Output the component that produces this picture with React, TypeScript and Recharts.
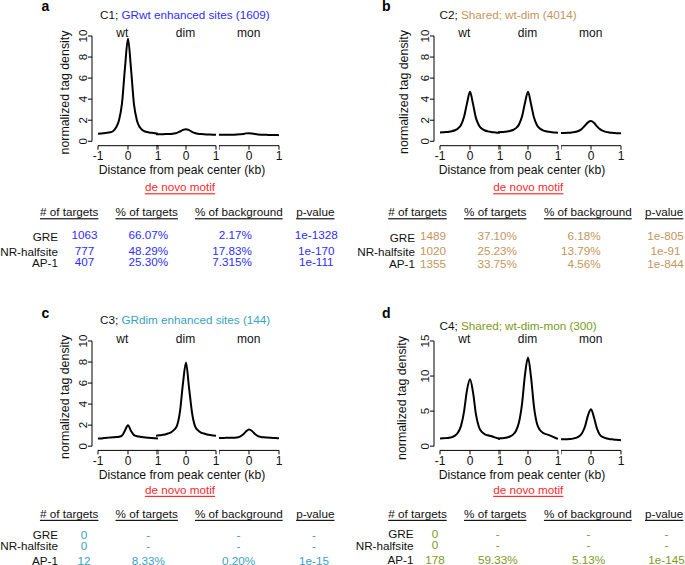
import React from 'react';
import { LineChart, Line, XAxis, YAxis, ReferenceLine } from 'recharts';

const FONT = '"Liberation Sans", Arial, Helvetica, sans-serif';

// ---------- data ----------
const positions = [-1, -0.9, -0.8, -0.7, -0.6, -0.5, -0.4, -0.3, -0.2, -0.1, 0, 0.1, 0.2, 0.3, 0.4, 0.5, 0.6, 0.7, 0.8, 0.9, 1];
const xTicks = [-1, 0, 1];
const yTicks10 = [0, 2, 4, 6, 8, 10];
const yTicks15 = [0, 5, 10, 15];
const conditions = ['wt', 'dim', 'mon'];
const motifs = ['GRE', 'NR-halfsite', 'AP-1'];
const headers = ['# of targets', '% of targets', '% of background', 'p-value'];

const aWt = [0.72, 0.74, 0.77, 0.8, 0.85, 0.95, 1.3, 2.0, 3.6, 7.0, 9.75, 6.9, 3.5, 1.95, 1.3, 1.02, 0.9, 0.84, 0.8, 0.76, 0.72];
const aDim = [0.66, 0.66, 0.67, 0.68, 0.69, 0.7, 0.73, 0.8, 0.93, 1.08, 1.15, 1.06, 0.9, 0.78, 0.71, 0.68, 0.66, 0.65, 0.64, 0.63, 0.62];
const aMon = [0.62, 0.62, 0.62, 0.62, 0.63, 0.63, 0.64, 0.66, 0.7, 0.75, 0.77, 0.74, 0.69, 0.65, 0.63, 0.62, 0.61, 0.6, 0.6, 0.59, 0.58];

const bWt = [0.83, 0.85, 0.87, 0.9, 0.96, 1.05, 1.22, 1.55, 2.3, 3.6, 4.7, 3.55, 2.2, 1.5, 1.18, 1.02, 0.94, 0.89, 0.85, 0.82, 0.8];
const bDim = [0.85, 0.87, 0.89, 0.92, 0.98, 1.07, 1.25, 1.6, 2.35, 3.65, 4.7, 3.55, 2.25, 1.52, 1.2, 1.04, 0.95, 0.9, 0.86, 0.83, 0.81];
const bMon = [0.78, 0.79, 0.8, 0.82, 0.85, 0.9, 1.0, 1.2, 1.5, 1.8, 1.92, 1.75, 1.42, 1.15, 0.98, 0.89, 0.84, 0.8, 0.78, 0.76, 0.75];

const cWt = [0.72, 0.74, 0.77, 0.8, 0.82, 0.84, 0.87, 0.9, 1.0, 1.5, 2.0, 1.45, 1.05, 0.95, 0.9, 0.86, 0.82, 0.8, 0.77, 0.75, 0.73];
const cDim = [1.0, 1.03, 1.07, 1.12, 1.2, 1.32, 1.55, 1.95, 3.3, 6.0, 7.95, 5.6, 3.2, 1.9, 1.5, 1.3, 1.2, 1.12, 1.06, 1.02, 1.0];
const cMon = [0.78, 0.78, 0.79, 0.8, 0.8, 0.81, 0.83, 0.9, 1.1, 1.4, 1.58, 1.45, 1.15, 0.95, 0.88, 0.84, 0.82, 0.8, 0.78, 0.77, 0.76];

const dWt = [1.1, 1.12, 1.15, 1.2, 1.3, 1.5, 1.95, 2.9, 4.9, 8.0, 9.55, 7.7, 4.5, 2.7, 2.0, 1.7, 1.55, 1.45, 1.3, 1.15, 1.0];
const dDim = [1.1, 1.12, 1.16, 1.24, 1.38, 1.65, 2.2, 3.4, 6.0, 10.2, 12.65, 9.9, 5.6, 3.2, 2.3, 1.9, 1.72, 1.58, 1.4, 1.2, 1.05];
const dMon = [0.98, 0.99, 1.0, 1.03, 1.08, 1.18, 1.4, 1.85, 2.8, 4.4, 5.27, 4.1, 2.5, 1.6, 1.28, 1.12, 1.04, 0.98, 0.93, 0.89, 0.85];

const aTargets = ['1063', '777', '407'];
const aPctTargets = ['66.07%', '48.29%', '25.30%'];
const aPctBg = ['2.17%', '17.83%', '7.315%'];
const aPval = ['1e-1328', '1e-170', '1e-111'];

const bTargets = ['1489', '1020', '1355'];
const bPctTargets = ['37.10%', '25.23%', '33.75%'];
const bPctBg = ['6.18%', '13.79%', '4.56%'];
const bPval = ['1e-805', '1e-91', '1e-844'];

const cTargets = ['0', '0', '12'];
const cPctTargets = ['-', '-', '8.33%'];
const cPctBg = ['-', '-', '0.20%'];
const cPval = ['-', '-', '1e-15'];

const dTargets = ['0', '0', '178'];
const dPctTargets = ['-', '-', '59.33%'];
const dPctBg = ['-', '-', '5.13%'];
const dPval = ['-', '-', '1e-145'];

// ---------- styles / layout ----------
const BLUE = '#2e2eff';
const TAN = '#c4955c';
const TEAL = '#3a9fc0';
const OLIVE = '#7b9a20';
const RED = '#ff2a2a';
const TXT = '#111';

const TOP = { plotTop: 36, plotHeight: 109.7, subY: 32.5, xTitleY: 170, deNovoY: 186.7, headerY: 211.7 };
const BOT = { plotTop: 340.6, plotHeight: 109.4, subY: 338.5, xTitleY: 475, deNovoY: 489.3, headerY: 513.3 };
const LEFT = { segs: [92.3, 155.5, 218.7], titleX: 100, xTitleX: 182, letterX: 41.5, deNovoX: 180, headerXs: [69.2, 146.7, 238.8, 315.3] };
const RIGHT = { segs: [434.3, 497.5, 560.7], titleX: 439.5, xTitleX: 522, letterX: 382, deNovoX: 528.3, headerXs: [417.5, 495.2, 587.8, 664.2] };

const panels = [
  {
    letter: 'a', col: LEFT, row: TOP, letterY: 11, titleY: 14, prefix: 'C1; ', title: 'GRwt enhanced sites (1609)', color: BLUE,
    series: [aWt, aDim, aMon], yDomain: [-0.42, 10], yTicks: yTicks10, yTitleX: 65, yTitleY: 92.5,
    labelX: 58, labelYs: [236.7, 251.7, 262.3], valueYs: [234.3, 250.7, 261.7],
    cols: [{ x: 84.5, a: 'middle' }, { x: 148.3, a: 'middle' }, { x: 252, a: 'end' }, { x: 316.3, a: 'middle' }],
    table: [aTargets, aPctTargets, aPctBg, aPval],
  },
  {
    letter: 'b', col: RIGHT, row: TOP, letterY: 11, titleY: 14, prefix: 'C2; ', title: 'Shared; wt-dim (4014)', color: TAN,
    series: [bWt, bDim, bMon], yDomain: [-0.42, 10], yTicks: yTicks10, yTitleX: 404, yTitleY: 92,
    labelX: 415, labelYs: [237.3, 251.7, 263.3], valueYs: [235, 250, 263.3],
    cols: [{ x: 433, a: 'middle' }, { x: 497.2, a: 'middle' }, { x: 600.7, a: 'end' }, { x: 665.5, a: 'middle' }],
    table: [bTargets, bPctTargets, bPctBg, bPval],
  },
  {
    letter: 'c', col: LEFT, row: BOT, letterY: 317.5, titleY: 319.3, prefix: 'C3; ', title: 'GRdim enhanced sites (144)', color: TEAL,
    series: [cWt, cDim, cMon], yDomain: [-0.4, 10], yTicks: yTicks10, yTitleX: 65, yTitleY: 397,
    labelX: 58, labelYs: [534, 545.7, 560.3], valueYs: [534, 545.3, 560.3],
    cols: [{ x: 84, a: 'middle' }, { x: 148.3, a: 'middle' }, { x: 238.5, a: 'middle' }, { x: 314, a: 'middle' }],
    table: [cTargets, cPctTargets, cPctBg, cPval],
  },
  {
    letter: 'd', col: RIGHT, row: BOT, letterY: 317.5, titleY: 325, prefix: 'C4; ', title: 'Shared; wt-dim-mon (300)', color: OLIVE,
    series: [dWt, dDim, dMon], yDomain: [-0.6, 15], yTicks: yTicks15, yTitleX: 402, yTitleY: 398,
    labelX: 413.5, labelYs: [533.3, 545.7, 559.3], valueYs: [533, 544.3, 559.3],
    cols: [{ x: 435, a: 'middle' }, { x: 497.8, a: 'middle' }, { x: 588.5, a: 'middle' }, { x: 666.5, a: 'middle' }],
    table: [dTargets, dPctTargets, dPctBg, dPval],
  },
];

// ---------- chart pieces ----------
const renderXTick = (props: any, first: boolean) => {
  const { x, y, payload } = props;
  if (!first && payload.value === -1) return <g />;
  return (
    <text x={x} y={y} dy={8.3} textAnchor="middle" fontSize={12} fontFamily={FONT} fill={TXT}>
      {String(payload.value)}
    </text>
  );
};

const renderYTick = (props: any) => {
  const { x, y, payload } = props;
  const bx = x + 1.1;
  return (
    <text x={bx} y={y} transform={`rotate(-90 ${bx} ${y})`} textAnchor="middle" fontSize={11.5} fontFamily={FONT} fill={TXT}>
      {String(payload.value)}
    </text>
  );
};

function SubChart({ values, first, plotLeft, plotTop, plotHeight, yDomain, yTicks }: any) {
  const data = positions.map((x, i) => ({ x, v: values[i] }));
  const yAxisW = first ? 40 : 0;
  const xMin = first ? -1.2 : -1;
  const plotW = first ? 66 : 60;
  const mTop = 6;
  const mRight = 8;
  const xAxisH = 30;
  const width = yAxisW + plotW + mRight;
  const height = mTop + plotHeight + xAxisH;
  const yMax = yDomain[1];
  return (
    <div style={{ position: 'absolute', left: plotLeft - yAxisW, top: plotTop - mTop }}>
      <LineChart width={width} height={height} data={data} margin={{ top: mTop, right: mRight, bottom: 0, left: 0 }}>
        <XAxis
          dataKey="x"
          type="number"
          domain={[xMin, 1]}
          ticks={xTicks}
          interval={0}
          allowDataOverflow
          height={xAxisH}
          axisLine={first ? false : { stroke: '#000', strokeWidth: 1 }}
          tickLine={{ stroke: '#000', strokeWidth: 1 }}
          tickSize={4}
          tick={(p: any) => renderXTick(p, first)}
        />
        {first ? (
          <YAxis
            type="number"
            domain={yDomain}
            ticks={yTicks}
            interval={0}
            allowDataOverflow
            width={yAxisW}
            axisLine={false}
            tickLine={{ stroke: '#000', strokeWidth: 1 }}
            tickSize={4}
            tick={renderYTick}
          />
        ) : (
          <YAxis type="number" domain={yDomain} allowDataOverflow hide />
        )}
        {first && (
          <ReferenceLine
            segment={[{ x: -1, y: yDomain[0] }, { x: 1, y: yDomain[0] }]}
            stroke="#000"
            strokeWidth={1}
            ifOverflow="visible"
          />
        )}
        {first && (
          <ReferenceLine
            segment={[{ x: -1.2, y: 0 }, { x: -1.2, y: yMax }]}
            stroke="#000"
            strokeWidth={1}
            ifOverflow="visible"
          />
        )}
        <Line type="monotone" dataKey="v" stroke="#000" strokeWidth={2} dot={false} isAnimationActive={false} />
      </LineChart>
    </div>
  );
}

function PanelCharts({ p }: any) {
  return (
    <>
      {p.series.map((s: number[], i: number) => (
        <SubChart
          key={i}
          values={s}
          first={i === 0}
          plotLeft={p.col.segs[i]}
          plotTop={p.row.plotTop}
          plotHeight={p.row.plotHeight}
          yDomain={p.yDomain}
          yTicks={p.yTicks}
        />
      ))}
    </>
  );
}

function PanelText({ p }: any) {
  const col = p.col;
  const row = p.row;
  const fs = 11.7;
  return (
    <g fontFamily={FONT}>
      <text x={col.letterX} y={p.letterY} fontSize={14} fontWeight="bold" fill="#000">{p.letter}</text>
      <text x={col.titleX} y={p.titleY} dominantBaseline="central" fontSize={11.7} style={{ whiteSpace: 'pre' }}>
        <tspan fill={TXT}>{p.prefix}</tspan>
        <tspan fill={p.color}>{p.title}</tspan>
      </text>
      {conditions.map((c, i) => (
        <text key={c} x={col.segs[i] + 30} y={row.subY} textAnchor="middle" dominantBaseline="central" fontSize={12} fill={TXT}>{c}</text>
      ))}
      <text
        x={p.yTitleX}
        y={p.yTitleY}
        transform={`rotate(-90 ${p.yTitleX} ${p.yTitleY})`}
        textAnchor="middle"
        dominantBaseline="central"
        fontSize={12.4}
        fill={TXT}
      >
        normalized tag density
      </text>
      <text x={col.xTitleX} y={row.xTitleY} textAnchor="middle" dominantBaseline="central" fontSize={12.2} fill={TXT}>
        Distance from peak center (kb)
      </text>
      <text x={col.deNovoX} y={row.deNovoY} textAnchor="middle" dominantBaseline="central" fontSize={fs} fill={RED} style={{ textDecoration: 'underline' }}>
        de novo motif
      </text>
      {headers.map((h, i) => (
        <text key={h} x={col.headerXs[i]} y={row.headerY} textAnchor="middle" dominantBaseline="central" fontSize={fs} fill={TXT} style={{ textDecoration: 'underline' }}>
          {h}
        </text>
      ))}
      {motifs.map((m, r) => (
        <text key={m} x={p.labelX} y={p.labelYs[r]} textAnchor="end" dominantBaseline="central" fontSize={fs} fill={TXT}>{m}</text>
      ))}
      {p.table.map((colVals: string[], ci: number) =>
        colVals.map((v: string, r: number) => (
          <text
            key={`${ci}-${r}`}
            x={p.cols[ci].x}
            y={p.valueYs[r]}
            textAnchor={p.cols[ci].a}
            dominantBaseline="central"
            fontSize={fs}
            fill={p.color}
          >
            {v}
          </text>
        ))
      )}
    </g>
  );
}

export default function App() {
  return (
    <div style={{ position: 'absolute', left: 0, top: 0, width: 685, height: 565, background: '#fff', overflow: 'hidden' }}>
      {panels.map((p) => (
        <PanelCharts key={p.letter} p={p} />
      ))}
      <svg width={685} height={565} style={{ position: 'absolute', left: 0, top: 0, pointerEvents: 'none' }}>
        {panels.map((p) => (
          <PanelText key={p.letter} p={p} />
        ))}
      </svg>
    </div>
  );
}
